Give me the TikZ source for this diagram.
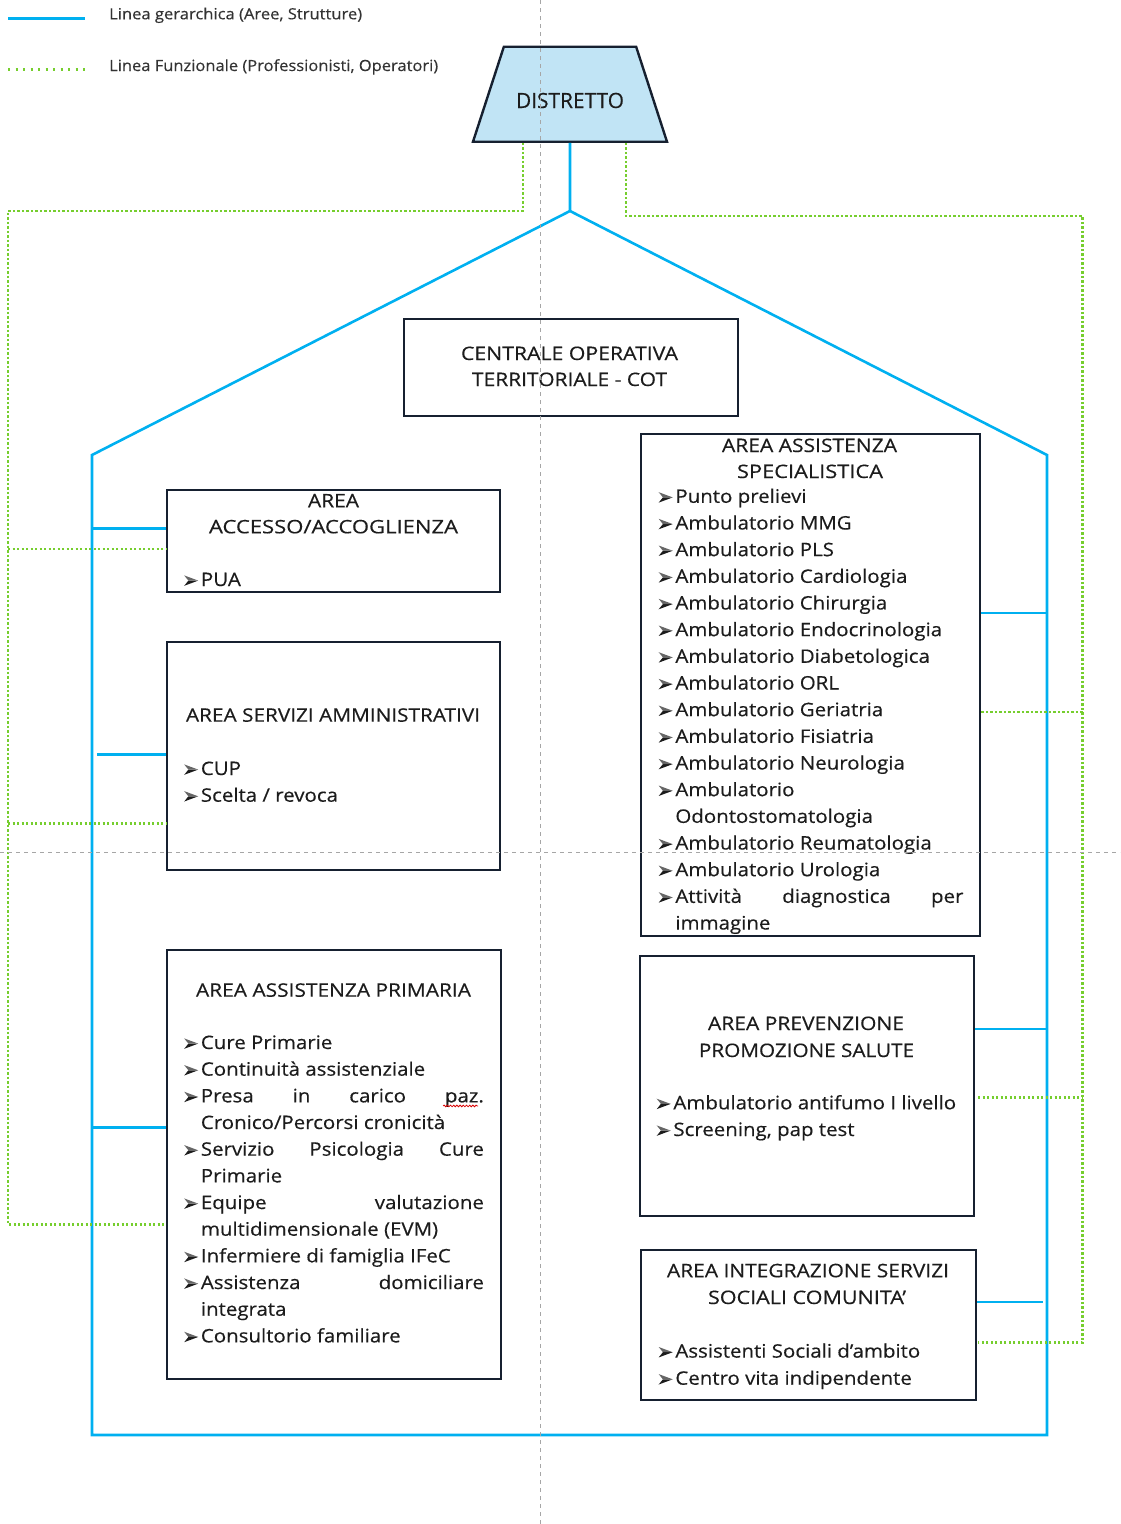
\documentclass[tikz,border=0pt]{standalone}
\usepackage{fontspec}
\usepackage{graphicx}
\setmainfont{Open Sans}[FakeBold=0.35]
\newfontfamily\listfont{Open Sans}[FakeStretch=1.10,FakeBold=0.35]
\usetikzlibrary{shapes.geometric,decorations.pathmorphing}
\definecolor{hblue}{RGB}{0,176,240}
\definecolor{fgreen}{RGB}{118,206,46}
\definecolor{boxc}{RGB}{22,32,48}
\definecolor{dfill}{RGB}{193,228,245}
\definecolor{ink}{RGB}{28,28,28}
\newcommand\bl{\makebox[16.7pt][l]{\tikz[x=1pt,y=1pt,baseline=0pt]{%
  \fill[ink] (0,0.2) -- (14,5.4) -- (4.2,5.4) -- cycle;
  \fill[black!60] (0,10.6) -- (14,5.4) -- (4.2,5.4) -- cycle;}}}
\newcommand\ind{\hspace*{16.7pt}}
\newcommand\fitx[2]{\resizebox{#1}{\height}{#2}}
\begin{document}
\begin{tikzpicture}[x=1pt,y=-1pt,
  hier/.style={hblue, line width=2.6pt},
  func/.style={fgreen, line width=2.5pt, dash pattern=on 2.2pt off 2.3pt},
  legfunc/.style={fgreen, line width=2.5pt, dash pattern=on 2.4pt off 5.1pt},
  guide/.style={black!35, line width=0.9pt, dash pattern=on 4pt off 4pt},
  area/.style={draw=boxc, line width=2.4pt, anchor=north west, inner sep=0pt, fill=white},
  ttl/.style={inner sep=0pt, anchor=base, font=\fontsize{18.6}{22}\selectfont, text=ink},
  lst/.style={inner sep=0pt, anchor=base west, font=\listfont\fontsize{18.6}{22}\selectfont, text=ink},
  leg/.style={inner sep=0pt, anchor=base west, font=\fontsize{15.4}{18}\selectfont, text=black!80}]
\useasboundingbox (0,0) rectangle (1120,1524);
% legend
\coordinate (lb1) at (8,18.3); \coordinate (lb2) at (85,18.3);
\coordinate (lg1) at (8,69.3); \coordinate (lg2) at (85,69.3);
\draw[hier, line width=2.4pt] (lb1) -- (lb2);
\draw[legfunc] (lg1) -- (lg2);
\node[leg] (legh) at (109,19.3) {\fitx{253pt}{Linea gerarchica (Aree, Strutture)}};
\node[leg] (legf) at (109,71) {\fitx{329pt}{Linea Funzionale (Professionisti, Operatori)}};
% distretto
\node[trapezium, trapezium stretches=true, trapezium left angle=76.6, trapezium right angle=76.6,
  minimum width=194pt, minimum height=95pt, draw=boxc, line width=2.4pt, fill=dfill, inner sep=0pt]
  (distretto) at (570,94.2) {\phantom{D}};
\node[ttl, font=\fontsize{21}{24}\selectfont] (distr-t) at (570,108) {\fitx{108pt}{DISTRETTO}};
% house coordinates
\coordinate (roof) at (570,211);
\coordinate (hl) at (92,455);
\coordinate (hbl) at (92,1435);
\coordinate (hbr) at (1047,1435);
\coordinate (hr) at (1047,455);
\coordinate (gl) at (8,211);
\coordinate (gr) at (1082.5,216);
% boxes
\node[area, minimum width=334pt, minimum height=97pt] (cot) at (403,317.5) {};
\node[area, minimum width=333pt, minimum height=102pt] (acc) at (166,488.5) {};
\node[area, minimum width=333pt, minimum height=228pt] (amm) at (166,641) {};
\node[area, minimum width=334pt, minimum height=429pt] (prim) at (166,949) {};
\node[area, minimum width=339pt, minimum height=502pt] (spec) at (640,432.5) {};
\node[area, minimum width=334pt, minimum height=260pt] (prev) at (639,955) {};
\node[area, minimum width=335pt, minimum height=150pt] (integ) at (640,1248.5) {};
% hierarchical lines
\draw[hier] (distretto.south) -- (roof);
\draw[hier, line join=miter] (roof) -- (hl) -- (hbl) -- (hbr) -- (hr) -- cycle;
\draw[hier] (hl |- 0,528.7) -- (acc.west |- 0,528.7);
\draw[hier] (97,754.7) -- (amm.west |- 0,754.7);
\draw[hier] (hl |- 0,1127.7) -- (prim.west |- 0,1127.7);
\draw[hier] (spec.east |- 0,613) -- (hr |- 0,613);
\draw[hier] (prev.east |- 0,1029) -- (hr |- 0,1029);
\draw[hier] (integ.east |- 0,1302) -- (1043,1302);
% functional lines
\draw[func] (distretto.south -| 523,0) -- (523,211) -- (gl) -- (gl |- 0,1224.3) -- (prim.west |- 0,1224.3);
\draw[func] (gl |- 0,549) -- (acc.west |- 0,549);
\draw[func] (gl |- 0,823.3) -- (amm.west |- 0,823.3);
\draw[func] (distretto.south -| 626,0) -- (626,216) -- (gr) -- (gr |- 0,1342.7) -- (978,1342.7);
\draw[func] (spec.east |- 0,712) -- (gr |- 0,712);
\draw[func] (978,1097.4) -- (gr |- 0,1097.4);
% titles
\node[ttl] (cot1) at (569.5,360) {\fitx{217pt}{CENTRALE OPERATIVA}};
\node[ttl] (cot2) at (569.5,386) {\fitx{195pt}{TERRITORIALE - COT}};
\node[ttl] (acc1) at (333.5,507.3) {\fitx{51pt}{AREA}};
\node[ttl] (acc2) at (333.5,533.3) {\fitx{249pt}{ACCESSO/ACCOGLIENZA}};
\node[ttl] (amm1) at (333,721.7) {\fitx{294pt}{AREA SERVIZI AMMINISTRATIVI}};
\node[ttl] (prim0) at (333.5,996.7) {\fitx{275pt}{AREA ASSISTENZA PRIMARIA}};
\node[ttl] (spec1) at (809.5,452) {\fitx{175pt}{AREA ASSISTENZA}};
\node[ttl] (spec2) at (810,478) {\fitx{146pt}{SPECIALISTICA}};
\node[ttl] (prev1) at (806,1030) {\fitx{196pt}{AREA PREVENZIONE}};
\node[ttl] (prev2) at (806.5,1057) {\fitx{215pt}{PROMOZIONE SALUTE}};
\node[ttl] (int1) at (808,1277.2) {\fitx{282pt}{AREA INTEGRAZIONE SERVIZI}};
\node[ttl] (int2) at (807,1304) {\fitx{198pt}{SOCIALI COMUNITA’}};
% lists
\node[lst] (acc3) at (184,586) {\bl PUA};
\node[lst] (amm2) at (184,775) {\bl CUP};
\node[lst] (amm3) at (184,801.7) {\bl Scelta / revoca};
\foreach \t [count=\i] in {{\bl Cure Primarie},{\bl Continuità assistenziale},
  {\bl\makebox[283pt][s]{Presa in carico paz.}},{\ind Cronico/Percorsi cronicità},
  {\bl\makebox[283pt][s]{Servizio Psicologia Cure}},{\ind Primarie},
  {\bl\makebox[283pt][s]{Equipe valutazione}},{\ind multidimensionale (EVM)},
  {\bl Infermiere di famiglia IFeC},
  {\bl\makebox[283pt][s]{Assistenza domiciliare}},{\ind integrata},
  {\bl Consultorio familiare}}
  \node[lst] (prim-\i) at (184,{1049+(\i-1)*26.67}) {\t};
\draw[red!85!black, line width=0.8pt, decorate, decoration={snake, amplitude=0.8pt, segment length=3.2pt}]
  ([xshift=-41pt, yshift=-3.6pt]prim-3.base east) -- ([xshift=-6pt, yshift=-3.6pt]prim-3.base east);
\foreach \t [count=\i] in {{\bl Punto prelievi},{\bl Ambulatorio MMG},{\bl Ambulatorio PLS},
  {\bl Ambulatorio Cardiologia},{\bl Ambulatorio Chirurgia},{\bl Ambulatorio Endocrinologia},
  {\bl Ambulatorio Diabetologica},{\bl Ambulatorio ORL},{\bl Ambulatorio Geriatria},
  {\bl Ambulatorio Fisiatria},{\bl Ambulatorio Neurologia},{\bl Ambulatorio},
  {\ind Odontostomatologia},{\bl Ambulatorio Reumatologia},{\bl Ambulatorio Urologia},
  {\bl\makebox[288pt][s]{Attività diagnostica per}},{\ind immagine}}
  \node[lst] (spec-\i) at (658.5,{502.8+(\i-1)*26.67}) {\t};
\node[lst] (prev3) at (656.5,1109.3) {\bl Ambulatorio antifumo I livello};
\node[lst] (prev4) at (656.5,1136) {\bl Screening, pap test};
\node[lst] (int3) at (658.5,1357.6) {\bl Assistenti Sociali d’ambito};
\node[lst] (int4) at (658.5,1384.7) {\bl Centro vita indipendente};
% guide lines
\coordinate (gv1) at (540,0); \coordinate (gv2) at (540,1524);
\coordinate (gh1) at (0,852.3); \coordinate (gh2) at (1120,852.3);
\draw[guide] (gv1) -- (gv2);
\draw[guide] (gh1) -- (gh2);
\end{tikzpicture}
\end{document}
